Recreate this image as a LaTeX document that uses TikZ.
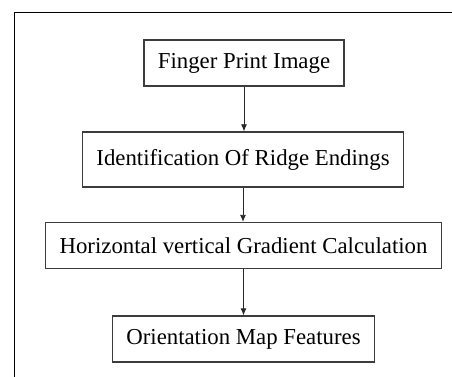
\documentclass[tikz,border=0pt]{standalone}
\usepackage{fontspec}
\setmainfont{Liberation Serif}
\usepackage{xcolor}
\usepackage{tikz}
\usetikzlibrary{arrows.meta}
\definecolor{figline}{RGB}{40,40,40}
\definecolor{boxline}{RGB}{60,60,60}
\tikzset{
  frm/.style  ={draw=black, line width=0.9pt},
  blk/.style  ={draw=boxline, line width=1.3pt, inner xsep=14pt, inner ysep=0pt,
                minimum height=46pt, font=\fontsize{22.8}{26}\selectfont},
  flw/.style  ={draw=figline, line width=0.8pt, -{Latex[length=7pt,width=6pt]}},
}
\begin{document}
\begin{tikzpicture}[x=1pt,y=1pt]
  \useasboundingbox (0,0) rectangle (452,-377);
  \draw[frm] (14,-377) -- (14,-12) -- (452,-12);
  \node[blk] (img)  at (244,-63)    {Finger Print Image};
  \node[blk,minimum height=55pt] (ridge) at (243,-159.5) {Identification Of Ridge Endings};
  \node[blk] (grad) at (243.5,-245.5) {Horizontal vertical Gradient Calculation};
  \node[blk] (omap) at (243.5,-339) {Orientation Map Features};
  \draw[flw] (img.south)   -- (img.south |- ridge.north);
  \draw[flw] (ridge.south) -- (ridge.south |- grad.north);
  \draw[flw] (grad.south)  -- (grad.south |- omap.north);
\end{tikzpicture}
\end{document}
